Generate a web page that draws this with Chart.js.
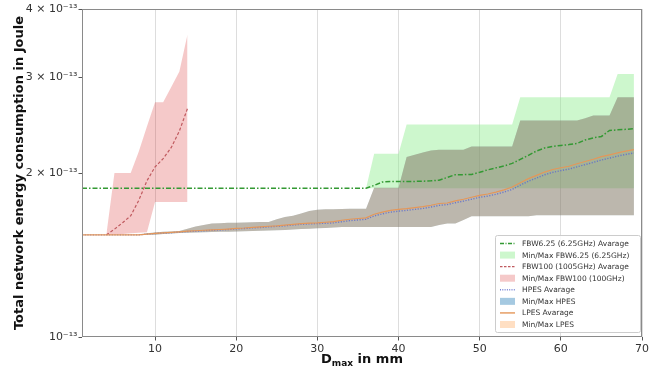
<!DOCTYPE html>
<html>
<head>
<meta charset="utf-8">
<script src="https://cdn.jsdelivr.net/npm/chart.js@4.4.1/dist/chart.umd.min.js"></script>
<style>
html,body{margin:0;padding:0;background:#fff;}
canvas{display:block;}
</style>
</head>
<body>
<canvas id="c" width="665" height="372"></canvas>
<script>
// ---------- DATA (values in units of 1e-13 Joule) ----------
const UNIT = 1e-13;

const dmax = [1,2,3,4,5,6,7,8,9,10,11,12,13,14,15,16,17,18,19,20,21,22,23,
  24,25,26,27,28,29,30,31,32,33,34,35,36,37,38,39,40,41,42,43,44,45,46,
  47,48,49,50,51,52,53,54,55,56,57,58,59,60,61,62,63,64,65,66,67,68,69];

const seriesNames = [
  'FBW6.25 (6.25GHz) Avarage',
  'Min/Max FBW6.25 (6.25GHz)',
  'FBW100 (1005GHz) Avarage',
  'Min/Max FBW100 (100GHz)',
  'HPES Avarage',
  'Min/Max HPES',
  'LPES Avarage',
  'Min/Max LPES'
];

const fbw625Avg = [
  1.875,1.875,1.875,1.875,1.875,1.875,
  1.875,1.875,1.875,1.875,1.875,1.875,
  1.875,1.875,1.875,1.875,1.875,1.875,
  1.875,1.875,1.875,1.875,1.875,1.875,
  1.875,1.875,1.875,1.875,1.875,1.875,
  1.875,1.875,1.875,1.875,1.875,1.875,
  1.898,1.925,1.93,1.93,1.93,1.93,1.932,1.935,1.94,
  1.963,1.986,1.986,1.988,2.006,2.027,2.044,2.06,2.083,
  2.118,2.155,2.195,2.223,2.238,2.247,2.255,2.266,2.30,
  2.32,2.334,2.394,2.40,2.405,2.411
];
const fbw625Min = [
  1.875,1.875,1.875,1.875,1.875,1.875,1.875,1.875,1.875,1.875,
  1.875,1.875,1.875,1.875,1.875,1.875,1.875,1.875,1.875,1.875,
  1.875,1.875,1.875,1.875,1.875,1.875,1.875,1.875,1.875,1.875,
  1.875,1.875,1.875,1.875,1.875,1.875,1.875,1.875,1.875,1.875,
  1.875,1.875,1.875,1.875,1.875,1.875,1.875,1.875,1.875,1.875,
  1.875,1.875,1.875,1.875,1.875,1.875,1.875,1.875,1.875,1.875,
  1.875,1.875,1.875,1.875,1.875,1.875,1.875,1.875,1.875
];
const fbw625Max = [
  1.875,1.875,1.875,1.875,1.875,1.875,
  1.875,1.875,1.875,1.875,1.875,1.875,
  1.875,1.875,1.875,1.875,1.875,1.875,
  1.875,1.875,1.875,1.875,1.875,1.875,
  1.875,1.875,1.875,1.875,1.875,1.875,
  1.875,1.875,1.875,1.875,1.875,1.875,
  2.17,2.17,2.17,2.17,
  2.455,2.455,2.455,2.455,2.455,2.455,2.455,2.455,2.455,2.455,2.455,2.455,2.455,2.455,
  2.755,2.755,2.755,2.755,2.755,2.755,2.755,2.755,2.755,2.755,2.755,2.755,
  3.04,3.04,3.04
];

const fbw100X   = [4,5,6,7,8,9,10,11,12,13,14];
const fbw100Avg = [1.54,1.577,1.621,1.669,1.782,1.935,2.052,2.125,2.228,2.389,2.627];
const fbw100Min = [1.54,1.543,1.546,1.55,1.553,1.557,1.77,1.77,1.77,1.77,1.77];
const fbw100Max = [1.54,2.0,2.0,2.0,2.19,2.435,2.698,2.698,2.877,3.07,3.59];

const hpesAvg = [
  1.54,1.54,1.54,1.54,1.54,1.54,1.54,1.54,
  1.545,1.549,1.551,1.554,1.558,1.562,1.564,1.567,1.57,1.572,1.575,1.579,
  1.582,1.586,1.589,1.593,1.596,1.6,1.605,1.61,1.613,1.615,1.617,1.62,
  1.628,1.635,1.64,1.645,1.668,1.683,1.695,1.702,1.708,1.715,1.722,1.732,
  1.744,1.75,1.764,1.776,1.79,1.805,1.814,1.828,1.845,1.866,1.9,1.932,
  1.958,1.985,2.005,2.02,2.033,2.053,2.072,2.092,2.113,2.13,2.148,2.163,2.177
];
const lpesAvg = [
  1.54,1.54,1.54,1.54,1.54,1.54,1.54,1.54,
  1.545,1.55,1.553,1.556,1.56,1.565,1.567,1.57,1.573,1.575,1.578,1.582,
  1.585,1.59,1.593,1.597,1.6,1.605,1.61,1.615,1.618,1.62,1.624,1.628,
  1.638,1.645,1.65,1.655,1.68,1.695,1.708,1.715,1.72,1.728,1.735,1.745,
  1.758,1.762,1.778,1.79,1.805,1.82,1.83,1.845,1.862,1.885,1.92,1.953,
  1.98,2.008,2.03,2.045,2.058,2.08,2.1,2.12,2.143,2.16,2.178,2.193,2.207
];
const hpesMax = [
  1.54,1.54,1.54,1.54,1.54,1.54,1.54,1.54,
  1.55,1.555,1.56,1.562,1.565,1.58,1.595,1.605,1.615,1.618,1.62,1.62,
  1.623,1.625,1.626,1.626,1.645,1.66,1.67,1.685,1.703,1.713,1.715,1.716,
  1.718,1.72,1.72,1.72,1.88,1.88,1.88,1.88,2.14,2.16,2.18,2.2,
  2.207,2.207,2.207,2.207,2.238,2.238,2.238,2.238,2.238,2.238,2.497,2.497,
  2.497,2.497,2.497,2.497,2.497,2.497,2.52,2.551,2.551,2.551,2.755,2.755,2.755
];
const hpesMin = [
  1.54,1.54,1.54,1.54,1.54,1.54,1.54,1.54,1.54,1.54,
  1.545,1.548,1.552,1.553,1.555,1.557,1.559,1.56,1.561,1.562,
  1.564,1.565,1.567,1.568,1.57,1.572,1.575,1.578,1.58,1.583,1.586,1.589,
  1.592,1.592,1.592,1.592,1.592,1.592,1.592,1.592,1.592,1.592,1.592,1.592,
  1.605,1.615,1.615,1.64,1.665,1.665,1.665,1.665,1.665,1.665,1.665,1.665,
  1.673,1.673,1.673,1.673,1.673,1.673,1.673,1.673,1.673,1.673,1.673,1.673,1.673
];
const lpesMax = [
  1.54,1.54,1.54,1.54,1.54,1.54,1.54,1.54,
  1.55,1.555,1.56,1.562,1.565,1.58,1.595,1.605,1.615,1.618,1.62,1.62,
  1.623,1.625,1.626,1.626,1.645,1.66,1.67,1.685,1.703,1.713,1.715,1.716,
  1.718,1.72,1.72,1.72,1.88,1.88,1.88,1.88,2.14,2.16,2.18,2.2,
  2.207,2.207,2.207,2.207,2.238,2.238,2.238,2.238,2.238,2.238,2.497,2.497,
  2.497,2.497,2.497,2.497,2.497,2.497,2.52,2.551,2.551,2.551,2.755,2.755,2.755
];
const lpesMin = [
  1.54,1.54,1.54,1.54,1.54,1.54,1.54,1.54,1.54,1.54,
  1.545,1.548,1.552,1.553,1.555,1.557,1.559,1.56,1.561,1.562,
  1.564,1.565,1.567,1.568,1.57,1.572,1.575,1.578,1.58,1.583,1.586,1.589,
  1.592,1.592,1.592,1.592,1.592,1.592,1.592,1.592,1.592,1.592,1.592,1.592,
  1.605,1.615,1.615,1.64,1.665,1.665,1.665,1.665,1.665,1.665,1.665,1.665,
  1.673,1.673,1.673,1.673,1.673,1.673,1.673,1.673,1.673,1.673,1.673,1.673,1.673
];

const xTickValues = [10,20,30,40,50,60,70];
const yTickValues = [1,2,3,4];
const yTickLabels = ['10\u207B\u00B9\u00B3','2 \u00D7 10\u207B\u00B9\u00B3','3 \u00D7 10\u207B\u00B9\u00B3','4 \u00D7 10\u207B\u00B9\u00B3'];
const yTitle = 'Total network energy consumption in Joule';
const xTitleMain = 'D', xTitleSub = 'max', xTitleRest = ' in mm';

// ---------- STYLE ----------
const FONT = "'DejaVu Sans', sans-serif";
const C_GREEN = '#339933';
const C_GREEN_BAND = 'rgba(144,238,144,0.45)';
const C_RED = '#c05a5f';
const C_RED_BAND = 'rgba(214,39,40,0.25)';
const C_BLUE = 'rgba(95,110,205,0.85)';
const C_BLUE_BAND = 'rgba(31,119,180,0.4)';
const C_ORANGE = '#e4975a';
const C_ORANGE_BAND = 'rgba(255,127,14,0.25)';

const DASH_GREEN = [5,2,1.5,2];
const DASH_RED = [3,2];
const DASH_BLUE = [1.2,1.5];

function pts(xs, vs){ return xs.map((x,i)=>({x:x, y:vs[i]*UNIT})); }

const base = {pointRadius:0, pointHoverRadius:0, tension:0};
function lineDs(label, xs, vs, color, width, dash, order){
  return Object.assign({}, base, {label, data:pts(xs,vs), borderColor:color, borderWidth:width, borderDash:dash, fill:false, order});
}
function minDs(label, xs, vs, order){
  return Object.assign({}, base, {label, data:pts(xs,vs), borderColor:'transparent', borderWidth:0, fill:false, order});
}
function maxDs(label, xs, vs, bg, order){
  return Object.assign({}, base, {label, data:pts(xs,vs), borderColor:'transparent', borderWidth:0, backgroundColor:bg, fill:'-1', order});
}

const datasets = [
  lineDs(seriesNames[0], dmax, fbw625Avg, C_GREEN, 1.5, DASH_GREEN, 4),
  minDs('fbw625 min', dmax, fbw625Min, 8),
  maxDs(seriesNames[1], dmax, fbw625Max, C_GREEN_BAND, 8),
  lineDs(seriesNames[2], fbw100X, fbw100Avg, C_RED, 1.2, DASH_RED, 3),
  minDs('fbw100 min', fbw100X, fbw100Min, 7),
  maxDs(seriesNames[3], fbw100X, fbw100Max, C_RED_BAND, 7),
  lineDs(seriesNames[4], dmax, hpesAvg, C_BLUE, 1.4, DASH_BLUE, 2),
  minDs('hpes min', dmax, hpesMin, 6),
  maxDs(seriesNames[5], dmax, hpesMax, C_BLUE_BAND, 6),
  lineDs(seriesNames[6], dmax, lpesAvg, C_ORANGE, 1.2, [], 1),
  minDs('lpes min', dmax, lpesMin, 5),
  maxDs(seriesNames[7], dmax, lpesMax, C_ORANGE_BAND, 5)
];

const legendItems = [
  {label:seriesNames[0], kind:'line', color:C_GREEN, dash:[4,1.5,1,1.5]},
  {label:seriesNames[1], kind:'band', color:C_GREEN_BAND},
  {label:seriesNames[2], kind:'line', color:C_RED, dash:[2.5,1.5]},
  {label:seriesNames[3], kind:'band', color:C_RED_BAND},
  {label:seriesNames[4], kind:'line', color:C_BLUE, dash:[1,1.3]},
  {label:seriesNames[5], kind:'band', color:C_BLUE_BAND},
  {label:seriesNames[6], kind:'line', color:C_ORANGE, dash:[]},
  {label:seriesNames[7], kind:'band', color:C_ORANGE_BAND}
];

const decor = {
  id:'decor',
  afterDatasetsDraw(chart){
    const {ctx, chartArea:ca} = chart;
    ctx.save();
    ctx.strokeStyle = '#8a8a8a';
    ctx.lineWidth = 1;
    ctx.setLineDash([]);
    ctx.strokeRect(Math.round(ca.left)+0.5, Math.round(ca.top)+0.5,
                   Math.round(ca.right-ca.left)-1, Math.round(ca.bottom-ca.top)-1);
    ctx.restore();
  },
  afterDraw(chart){
    const {ctx, chartArea:ca} = chart;
    // legend
    ctx.save();
    const w = 145, h = 97;
    const x0 = ca.right - 2 - w, y0 = ca.bottom - 5 - h;
    ctx.fillStyle = 'rgba(255,255,255,0.85)';
    ctx.strokeStyle = '#cccccc';
    ctx.lineWidth = 1;
    ctx.beginPath();
    if (ctx.roundRect) ctx.roundRect(x0+0.5, y0+0.5, w, h, 2); else ctx.rect(x0+0.5, y0+0.5, w, h);
    ctx.fill(); ctx.stroke();
    ctx.font = '7.5px ' + FONT;
    ctx.textBaseline = 'middle';
    legendItems.forEach((it, i) => {
      const cy = y0 + 8.5 + i*11.57;
      const sx = x0 + 5, sw = 15;
      if (it.kind === 'line') {
        ctx.strokeStyle = it.color;
        ctx.lineWidth = 1.4;
        ctx.setLineDash(it.dash);
        ctx.beginPath(); ctx.moveTo(sx, cy); ctx.lineTo(sx+sw, cy); ctx.stroke();
        ctx.setLineDash([]);
      } else {
        ctx.fillStyle = it.color;
        ctx.fillRect(sx, cy-3.5, sw, 7);
      }
      ctx.fillStyle = '#333';
      ctx.fillText(it.label, x0 + 27, cy + 0.5);
    });
    ctx.restore();
    // x axis title with subscript
    ctx.save();
    ctx.fillStyle = '#111';
    const fMain = 'bold 13px ' + FONT, fSub = 'bold 9px ' + FONT;
    ctx.font = fMain; const wD = ctx.measureText(xTitleMain).width; const wR = ctx.measureText(xTitleRest).width;
    ctx.font = fSub; const wS = ctx.measureText(xTitleSub).width;
    const cx = (ca.left + ca.right)/2;
    let x = cx - (wD + wS + wR)/2;
    const yb = 363;
    ctx.textBaseline = 'alphabetic';
    ctx.font = fMain; ctx.fillText(xTitleMain, x, yb); x += wD;
    ctx.font = fSub; ctx.fillText(xTitleSub, x, yb + 3); x += wS;
    ctx.font = fMain; ctx.fillText(xTitleRest, x, yb);
    ctx.restore();
  }
};

new Chart(document.getElementById('c'), {
  type:'line',
  data:{datasets},
  plugins:[decor],
  options:{
    responsive:false,
    animation:false,
    events:[],
    layout:{padding:{left:0, right:23, top:9, bottom:0}},
    plugins:{legend:{display:false}, tooltip:{enabled:false}, title:{display:false}},
    scales:{
      x:{
        type:'linear', min:1, max:70,
        afterBuildTicks:s => { s.ticks = xTickValues.map(v => ({value:v})); },
        afterFit:s => { s.height = 35; },
        ticks:{autoSkip:false, maxRotation:0, color:'#333', font:{family:FONT, size:11}, padding:2,
               callback:v => String(v)},
        grid:{color:'#dddddd', lineWidth:1, tickLength:3.5, tickColor:'#555'},
        border:{display:false}
      },
      y:{
        type:'logarithmic', min:yTickValues[0]*UNIT, max:yTickValues[yTickValues.length-1]*UNIT,
        afterBuildTicks:s => { s.ticks = yTickValues.map(v => ({value:v*UNIT})); },
        afterFit:s => { s.width = 82; },
        ticks:{autoSkip:false, color:'#333', font:{family:FONT, size:11}, padding:1,
               callback:(v, i) => yTickLabels[i]},
        grid:{drawOnChartArea:false, tickLength:3.5, tickColor:'#555'},
        border:{display:false},
        title:{display:true, text:yTitle, color:'#111', font:{family:FONT, size:13, weight:'bold'}, padding:{top:12, bottom:0}}
      }
    }
  }
});
</script>
</body>
</html>
